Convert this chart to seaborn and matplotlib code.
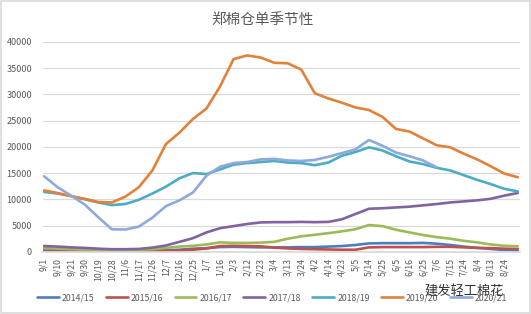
import numpy as np
import pandas as pd
import seaborn as sns
import matplotlib.pyplot as plt
from matplotlib.ticker import MultipleLocator
from matplotlib.patches import Rectangle

# tick labels (one every 7 trading days), last data point has no label
tick_labels = ["9/1", "9/10", "9/21", "9/30", "10/19", "10/28", "11/6", "11/17", "11/26",
               "12/7", "12/16", "12/25", "1/7", "1/16", "2/3", "2/12", "2/23", "3/4",
               "3/13", "3/24", "4/2", "4/14", "4/23", "5/5", "5/14", "5/25", "6/5",
               "6/16", "6/25", "7/6", "7/15", "7/24", "8/4", "8/13", "8/24"]

seasons = ["2014/15", "2015/16", "2016/17", "2017/18", "2018/19", "2019/20", "2020/21"]

s1415 = [250, 250, 200, 200, 150, 150, 150, 200, 250, 300, 400, 600, 700, 900, 950, 900,
         850, 850, 850, 900, 900, 1000, 1100, 1300, 1600, 1650, 1650, 1650, 1700, 1550,
         1300, 1000, 750, 550, 350, 200]
s1516 = [500, 450, 350, 250, 150, 100, 100, 100, 150, 200, 250, 400, 650, 1100, 1150, 1100,
         1050, 800, 650, 550, 500, 450, 400, 400, 850, 900, 900, 900, 900, 950,
         950, 850, 750, 700, 600, 550]
s1617 = [700, 600, 500, 400, 350, 300, 300, 400, 500, 750, 1000, 1150, 1400, 1800, 1700,
         1700, 1750, 1900, 2500, 2950, 3250, 3550, 3900, 4300, 5100, 4900, 4200, 3700,
         3200, 2800, 2500, 2100, 1800, 1400, 1150, 1050]
s1718 = [1100, 1000, 850, 750, 600, 500, 500, 550, 800, 1200, 1900, 2600, 3700, 4500, 4900,
         5300, 5600, 5650, 5650, 5700, 5650, 5700, 6200, 7200, 8200, 8300, 8450, 8600,
         8850, 9100, 9400, 9600, 9800, 10100, 10700, 11200]
s1819 = [11400, 11100, 10600, 10000, 9400, 8900, 9100, 9900, 11100, 12400, 14000, 15000,
         14800, 15700, 16600, 16900, 17100, 17300, 17000, 16900, 16500, 17000, 18300,
         19000, 19900, 19300, 18200, 17200, 16700, 16000, 15500, 14600, 13700, 12900,
         12000, 11500]
s1920 = [11700, 11200, 10600, 10100, 9500, 9400, 10500, 12300, 15500, 20500, 22700, 25300,
         27300, 31500, 36700, 37400, 37000, 36000, 35900, 34700, 30200, 29200, 28400,
         27500, 27000, 25700, 23400, 22900, 21600, 20300, 19900, 18700, 17600, 16300,
         14900, 14200]
s2021 = [14400, 12300, 10700, 9000, 6600, 4300, 4250, 4800, 6500, 8700, 9800, 11300, 14500,
         16200, 16900, 17100, 17600, 17700, 17400, 17300, 17500, 18100, 18800, 19500,
         21300, 20200, 18900, 18200, 17400, 16100]

series = [s1415, s1516, s1617, s1718, s1819, s1920, s2021]
colors = ["#4A7EC2", "#C0504D", "#9BBB59", "#8064A2", "#4BACC6", "#E2813A", "#8EA9DB"]

rows = []
for name, vals in zip(seasons, series):
    for i, v in enumerate(vals):
        rows.append((i, v, name))
df = pd.DataFrame(rows, columns=["pos", "stock", "season"])

sns.set_theme(style="white")
plt.rcParams['font.family'] = ['Noto Sans CJK SC', 'DejaVu Sans']
grey = "#595959"

fig, ax = plt.subplots(figsize=(5.31, 3.14), dpi=100)
fig.subplots_adjust(left=0.081, right=0.979, bottom=0.198, top=0.867)

sns.lineplot(data=df, x="pos", y="stock", hue="season", hue_order=seasons,
             palette=colors, linewidth=1.9, ax=ax)

# axes styling
ax.set_xlim(-0.08, 35.15)
ax.set_ylim(0, 40000)
ax.set_yticks(np.arange(0, 40001, 5000))
ax.set_xticks(range(len(tick_labels)))
ax.set_xticklabels(tick_labels, rotation=90, fontsize=6.3, color=grey)
ax.xaxis.set_minor_locator(MultipleLocator(1 / 7))
ax.tick_params(axis="y", labelsize=6.5, labelcolor=grey, length=0, pad=8)
ax.tick_params(axis="x", which="both", length=2.5, color="#D9D9D9", pad=2)
ax.set_xlabel("")
ax.set_ylabel("")
ax.grid(axis="y", color="#D9D9D9", linewidth=0.9)
ax.set_axisbelow(True)
for s in ["left", "right", "top"]:
    ax.spines[s].set_visible(False)
ax.spines["bottom"].set_color("#D9D9D9")

sns.move_legend(ax, "center", bbox_to_anchor=(0.48, -0.22), ncol=7, frameon=False,
                title=None, fontsize=6.3, handlelength=2.5, columnspacing=1.3,
                handletextpad=0.35)
for t in ax.get_legend().get_texts():
    t.set_color(grey)

fig.text(0.495, 1 - 20 / 314, "郑棉仓单季节性", ha="center", va="center",
         fontsize=10.5, color=grey)

# watermark
fig.text(0.95, 0.07, "建发轻工棉花", ha="right", va="center", fontsize=9.5,
         color="#333333", zorder=10)

# chart border
fig.patches.append(Rectangle((0.002, 0.002), 0.996, 0.996, transform=fig.transFigure,
                             fill=False, edgecolor="#D9D9D9", linewidth=1.2))

fig.savefig("out.png", dpi=100)
